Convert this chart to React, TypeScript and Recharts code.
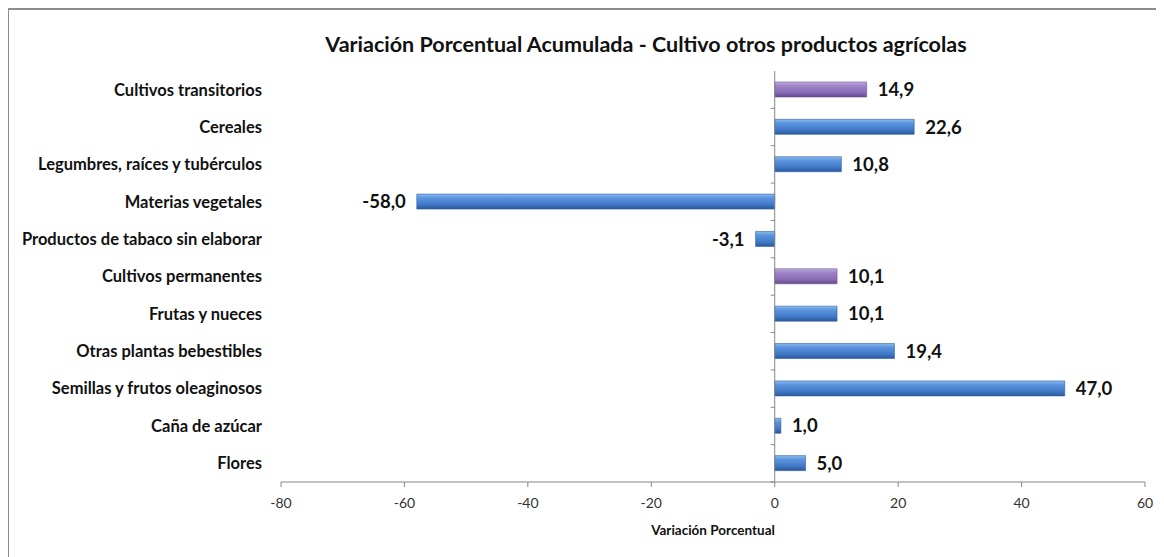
import { BarChart, Bar, XAxis, YAxis, ReferenceLine, LabelList, Cell } from 'recharts';

const categories = [
  'Cultivos transitorios',
  'Cereales',
  'Legumbres, raíces y tubérculos',
  'Materias vegetales',
  'Productos de tabaco sin elaborar',
  'Cultivos permanentes',
  'Frutas y nueces',
  'Otras plantas bebestibles',
  'Semillas y frutos oleaginosos',
  'Caña de azúcar',
  'Flores',
];
const values = [14.9, 22.6, 10.8, -58.0, -3.1, 10.1, 10.1, 19.4, 47.0, 1.0, 5.0];
const groupRows = ['Cultivos transitorios', 'Cultivos permanentes'];
const xTicks = [-80, -60, -40, -20, 0, 20, 40, 60];

const data = categories.map((name, i) => ({ name, value: values[i] }));

const FONT = 'Lato, "Open Sans", sans-serif';
const fmt = (v: number) => v.toFixed(1).replace('.', ',');

// zero line with small ticks at the category boundaries
function ZeroAxis(props: any) {
  const { x1, y1, x2, y2 } = props;
  const n = categories.length;
  const step = (y2 - y1) / n;
  const marks = [];
  for (let i = 0; i < n; i++) {
    const y = y1 + step * i;
    marks.push(<line key={i} x1={x1 - 4} x2={x1} y1={y} y2={y} stroke="#868686" strokeWidth={1} />);
  }
  return (
    <g>
      <line x1={x1} y1={y1} x2={x2} y2={y2} stroke="#868686" strokeWidth={1} />
      {marks}
    </g>
  );
}

function ValueLabel(props: any) {
  const { x, y, width, height, value } = props;
  const neg = value < 0;
  const tx = neg ? Math.min(x, x + width) - 11 : Math.max(x, x + width) + 11;
  return (
    <text
      x={tx}
      y={y + height / 2}
      dy="0.36em"
      textAnchor={neg ? 'end' : 'start'}
      fontFamily={FONT}
      fontWeight={700}
      fontSize={18.5}
      fill="#111"
    >
      {fmt(value)}
    </text>
  );
}

export default function App() {
  return (
    <div
      style={{
        position: 'relative',
        width: 1156,
        height: 549,
        borderLeft: '2px solid #8c8c8c',
        borderTop: '2px solid #8c8c8c',
        marginLeft: -1,
        background: '#fff',
        fontFamily: FONT,
      }}
    >
      <div
        style={{
          position: 'absolute',
          left: 0,
          width: 1274,
          top: 21,
          textAlign: 'center',
          fontSize: 21.5,
          fontWeight: 700,
          color: '#111',
        }}
      >
        Variación Porcentual Acumulada - Cultivo otros productos agrícolas
      </div>
      <BarChart
        width={1150}
        height={541}
        data={data}
        layout="vertical"
        margin={{ top: 61, right: 14, bottom: 9, left: 0 }}
        barCategoryGap={10}
      >
        <defs>
          <linearGradient id="gBlue" x1="0" y1="0" x2="0" y2="1">
            <stop offset="0%" stopColor="#8dbbf0" />
            <stop offset="25%" stopColor="#5a95de" />
            <stop offset="70%" stopColor="#4178c6" />
            <stop offset="100%" stopColor="#2a5798" />
          </linearGradient>
          <linearGradient id="gPurple" x1="0" y1="0" x2="0" y2="1">
            <stop offset="0%" stopColor="#c3aee0" />
            <stop offset="25%" stopColor="#9f84c8" />
            <stop offset="70%" stopColor="#8a6db6" />
            <stop offset="100%" stopColor="#634a8c" />
          </linearGradient>
        </defs>
        <XAxis
          type="number"
          domain={[-80, 60]}
          ticks={xTicks}
          axisLine={{ stroke: '#868686' }}
          tickLine={{ stroke: '#868686' }}
          tickSize={5}
          tickMargin={11}
          height={60}
          tick={{ fontSize: 14, fill: '#333', fontFamily: FONT }}
          label={{
            value: 'Variación Porcentual',
            position: 'insideBottom',
            offset: 7,
            style: { fontSize: 13.5, fontWeight: 700, fill: '#111', fontFamily: FONT },
          }}
        />
        <YAxis
          type="category"
          dataKey="name"
          width={272}
          axisLine={false}
          tickLine={false}
          tickMargin={13}
          tick={{ fontSize: 16.5, fontWeight: 700, fill: '#111', fontFamily: FONT }}
        />
        <ReferenceLine x={0} shape={ZeroAxis} />
        <Bar dataKey="value" barSize={15} isAnimationActive={false} strokeWidth={0.6}>
          {data.map((d) => (
            <Cell
              key={d.name}
              fill={groupRows.includes(d.name) ? 'url(#gPurple)' : 'url(#gBlue)'}
              stroke={groupRows.includes(d.name) ? '#6a5191' : '#2f5f9f'}
            />
          ))}
          <LabelList dataKey="value" content={ValueLabel} />
        </Bar>
      </BarChart>
    </div>
  );
}
